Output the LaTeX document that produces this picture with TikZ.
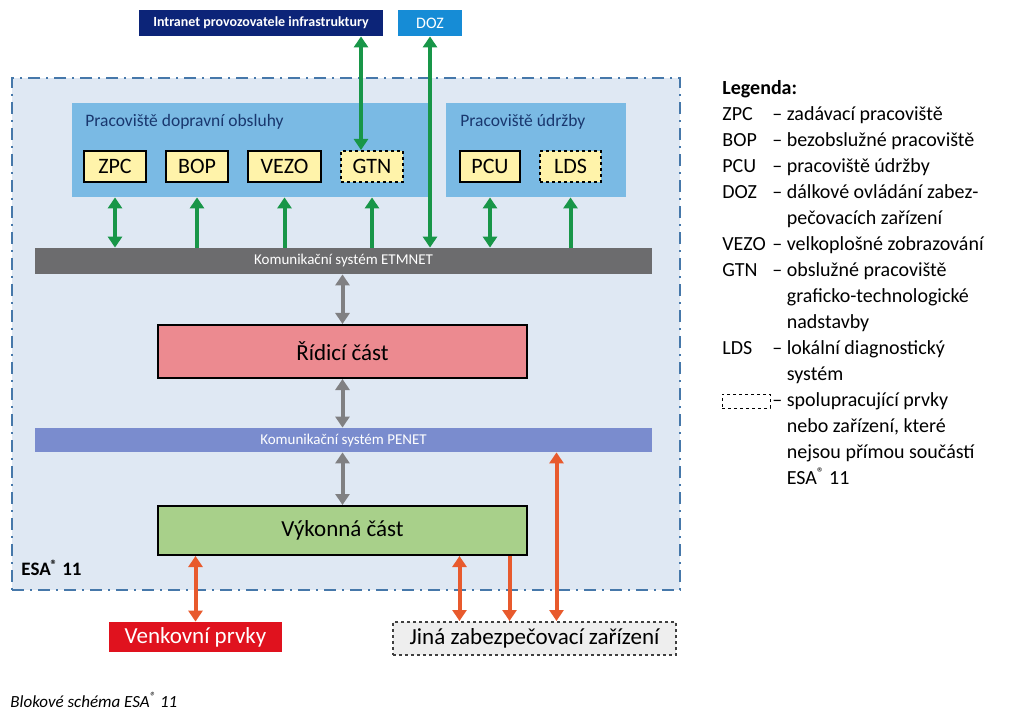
\documentclass[tikz,border=0pt]{standalone}
\usepackage{fontspec}
\setmainfont{Carlito}
\usetikzlibrary{positioning,arrows.meta}
\definecolor{navy}{RGB}{12,36,120}
\definecolor{dozblue}{RGB}{22,140,214}
\definecolor{esafill}{RGB}{223,232,243}
\definecolor{esaline}{RGB}{70,120,170}
\definecolor{grpfill}{RGB}{122,186,228}
\definecolor{grptext}{RGB}{25,55,110}
\definecolor{unitfill}{RGB}{255,243,170}
\definecolor{etmgray}{RGB}{108,108,110}
\definecolor{penblue}{RGB}{122,140,206}
\definecolor{ridpink}{RGB}{236,138,144}
\definecolor{vykgreen}{RGB}{168,208,138}
\definecolor{venred}{RGB}{224,18,30}
\definecolor{jingray}{RGB}{238,238,238}
\definecolor{arrgreen}{RGB}{24,150,72}
\definecolor{arrgray}{RGB}{128,128,130}
\definecolor{arrorange}{RGB}{232,90,45}

\begin{document}
\begin{tikzpicture}[x=1pt, y=-1pt, thick, node distance={18pt},
  >={Triangle[length=11pt,width=14pt]},
  top/.style = {inner sep=0pt, minimum height=26pt, text=white},
  grp/.style = {fill=grpfill, inner sep=0pt, minimum height=94pt},
  lbl/.style = {anchor=west, inner sep=0pt, text=grptext, font=\fontsize{17.5}{17.5}\selectfont},
  unit/.style = {draw, line width=2pt, fill=unitfill, minimum height=31pt, inner sep=0pt, font=\fontsize{22}{22}\selectfont},
  coop/.style = {unit, dashed},
  bar/.style = {inner sep=0pt, minimum width=617pt, text=white, font=\fontsize{15}{15}\selectfont},
  part/.style = {draw, line width=2pt, minimum width=369pt, inner sep=0pt, font=\fontsize{23}{23}\selectfont},
  ext/.style = {inner sep=0pt, font=\fontsize{23}{23}\selectfont},
  garr/.style = {draw=arrgreen, line width=4pt},
  yarr/.style = {draw=arrgray, line width=4pt},
  oarr/.style = {draw=arrorange, line width=4pt}]
\useasboundingbox (0,0) rectangle (1020,711);

% ESA 11 frame
\node[draw=esaline, fill=esafill, line width=1.5pt, dash pattern=on 12pt off 6pt on 2pt off 6pt,
  minimum width=668pt, minimum height=512pt, inner sep=0pt] (esa) at (346,334) {};
\node[anchor=west, inner sep=0pt, font=\bfseries\fontsize{19}{19}\selectfont] (esalbl) at (21,568) {ESA\textsuperscript{®} 11};

% top
\node[top, fill=navy, minimum width=244pt, font=\bfseries\fontsize{14}{14}\selectfont] (intra) at (261,23) {Intranet provozovatele infrastruktury};
\node[top, fill=dozblue, minimum width=64pt, font=\fontsize{16}{16}\selectfont] (doz) at (430,23) {DOZ};

% workplaces
\node[grp, minimum width=356pt] (pdo) at (250,150) {};
\node[grp, minimum width=180pt] (pu) at (536,150) {};
\node[lbl] (pdolbl) at (85,122) {Pracoviště dopravní obsluhy};
\node[lbl] (pulbl) at (460,122) {Pracoviště údržby};
\node[unit, minimum width=62pt] (zpc) at (115,166.5) {ZPC};
\node[unit, minimum width=62pt] (bop) [right=of zpc] {BOP};
\node[unit, minimum width=73pt] (vezo) [right=of bop] {VEZO};
\node[coop, minimum width=62pt] (gtn) [right=of vezo] {GTN};
\node[unit, minimum width=60pt] (pcu) at (490,166.5) {PCU};
\node[coop, minimum width=61pt] (lds) [right=of pcu] {LDS};

% buses and parts
\node[bar, fill=etmgray, minimum height=26pt] (etm) at (343.5,261) {Komunikační systém ETMNET};
\node[part, fill=ridpink, minimum height=53pt] (rid) at (342.5,351.5) {Řídicí část};
\node[bar, fill=penblue, minimum height=24pt] (pen) at (343.5,440) {Komunikační systém PENET};
\node[part, fill=vykgreen, minimum height=49pt] (vyk) at (342.5,530.5) {Výkonná část};

% outside
\node[ext, fill=venred, text=white, minimum width=173pt, minimum height=30pt] (ven) at (195.5,637) {Venkovní prvky};
\node[ext, draw=black!75, line width=2pt, dashed, fill=jingray, minimum width=283pt, minimum height=33pt] (jin) at (534.5,638.5) {Jiná zabezpečovací zařízení};

% green arrows
\draw[garr, <->] (zpc |- pdo.south) -- (zpc |- etm.north);
\draw[garr, ->] (bop |- etm.north) -- (bop |- pdo.south);
\draw[garr, ->] (vezo |- etm.north) -- (vezo |- pdo.south);
\draw[garr, ->] (gtn |- etm.north) -- (gtn |- pdo.south);
\draw[garr, <->] (pcu |- pu.south) -- (pcu |- etm.north);
\draw[garr, ->] (lds |- etm.north) -- (lds |- pu.south);
\coordinate (gi) at ([xshift=-11pt]gtn.north);
\draw[garr, <->] (gi |- intra.south) -- (gi);
\draw[garr, <->] (doz.south) -- (doz.south |- etm.north);

% gray arrows
\draw[yarr, <->] (rid |- etm.south) -- (rid.north);
\draw[yarr, <->] (rid.south) -- (rid |- pen.north);
\draw[yarr, <->] (vyk |- pen.south) -- (vyk.north);

% orange arrows
\draw[oarr, <->] (ven.north |- vyk.south) -- (ven.north);
\coordinate (j1) at ([xshift=-75pt]jin.north);
\coordinate (j2) at ([xshift=-25pt]jin.north);
\coordinate (j3) at ([xshift=22pt]jin.north);
\draw[oarr, <->] (j1 |- vyk.south) -- (j1);
\draw[oarr, ->] (j2 |- vyk.south) -- (j2);
\draw[oarr, <->] (j3 |- pen.south) -- (j3);

% legend
\node[anchor=north west, inner sep=0pt, font=\fontsize{20}{26}\selectfont] (leg) at (722,76) {%
\begin{tabular}{@{}p{50pt}@{}l@{}}
\multicolumn{2}{@{}l}{\textbf{Legenda:}}\\
ZPC & – zadávací pracoviště\\
BOP & – bezobslužné pracoviště\\
PCU & – pracoviště údržby\\
DOZ & – dálkové ovládání zabez-\\
 & \phantom{– }pečovacích zařízení\\
VEZO & – velkoplošné zobrazování\\
GTN & – obslužné pracoviště\\
 & \phantom{– }graficko-technologické\\
 & \phantom{– }nadstavby\\
LDS & – lokální diagnostický\\
 & \phantom{– }systém\\
 & – spolupracující prvky\\
 & \phantom{– }nebo zařízení, které\\
 & \phantom{– }nejsou přímou součástí\\
 & \phantom{– }ESA\textsuperscript{®} 11
\end{tabular}};
\node[draw, dashed, line width=1pt, minimum width=48pt, minimum height=14pt, inner sep=0pt] (legbox) at ([shift={(24,325)}]leg.north west) {};

% caption
\node[anchor=west, inner sep=0pt, font=\itshape\fontsize{17}{17}\selectfont] (cap) at (10,700) {Blokové schéma ESA\textsuperscript{®} 11};
\end{tikzpicture}
\end{document}
